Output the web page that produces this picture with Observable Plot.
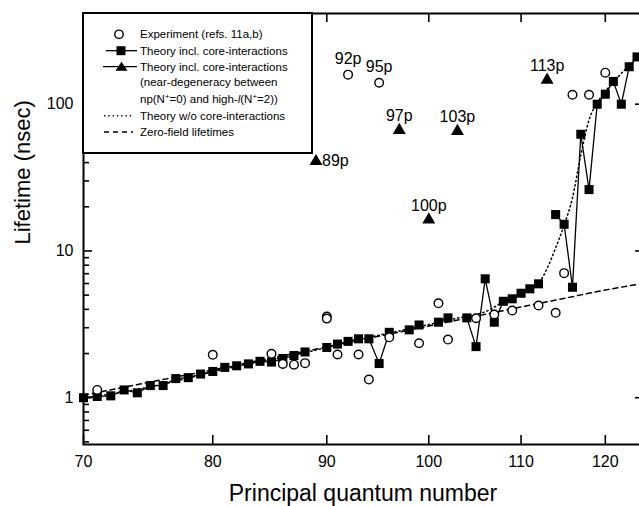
<!DOCTYPE html>
<html><head><meta charset="utf-8">
<script src="https://cdn.jsdelivr.net/npm/d3@7"></script>
<script src="https://cdn.jsdelivr.net/npm/@observablehq/plot@0.6"></script>
<style>
html,body{margin:0;padding:0;background:#fff;overflow:hidden;}
#chart{position:relative;width:639px;height:506px;overflow:hidden;}
</style></head><body><div id="chart"></div>
<script>
// ---- Data ----
// Theory incl. core-interactions (filled squares, joined by a solid line); null = replaced by a triangle
const sqN = [70,71,72,73,74,75,76,77,78,79,80,81,82,83,84,85,86,87,88,89,90,91,92,93,94,95,96,97,98,99,100,101,102,103,104,105,106,107,108,109,110,111,112,113,114,115,116,117,118,119,120,121,122,123,124];
const sqV = [1.0,1.02,1.03,1.13,1.08,1.21,1.21,1.35,1.37,1.45,1.51,1.61,1.65,1.70,1.77,1.75,1.85,1.94,2.05,null,2.20,2.32,2.42,2.52,2.52,1.71,2.79,null,2.90,3.13,null,3.27,3.50,null,3.50,2.23,6.46,3.27,4.54,4.72,5.15,5.52,5.97,null,17.7,15.2,5.66,62.4,26.2,100,117,143,100,180,210];

// Experiment (open circles)
const expN = [71,80,85,86,87,88,90,90,91,92,93,94,95,96,99,101,102,105,107,109,112,114,115,116,118,120];
const expV = [1.13,1.96,1.99,1.70,1.68,1.72,3.57,3.46,1.97,159,1.97,1.33,140,2.58,2.35,4.40,2.49,3.48,3.69,3.93,4.25,3.79,7.06,116,116,164];

// Theory incl. core-interactions, near-degeneracy (filled triangles)
const triN = [89,97,100,103,113];
const triV = [40.8,66.4,16.3,65.4,146];
const triLabel = ["89p","97p","100p","103p","113p"];

// Labelled experimental points
const expLabelN = [92,95];
const expLabelV = [159,140];
const expLabel = ["92p","95p"];

// Theory w/o core-interactions (dotted)
const dotN = [70,72,74,76,78,80,82,84,86,88,90,92,94,96,98,100,102,104,106,108,110,111,112,113,114,115,116,117,118,119,120,121,122,123,124];
const dotV = [1.0,1.06,1.14,1.24,1.36,1.50,1.63,1.76,1.88,2.03,2.20,2.40,2.58,2.76,2.95,3.15,3.38,3.60,3.85,4.50,5.15,5.52,6.0,7.6,10.5,15,23,45,78,102,122,142,162,185,210];

// Zero-field lifetimes (dashed)
const zfN = [70,80,90,100,110,120,124.7];
const zfV = [1.04,1.55,2.22,3.08,4.15,5.42,6.0];

// Axis ticks and texts
const xTicks = [70,80,90,100,110,120];
const yMajor = [1,10,100];
const yMinor = [0.5,0.6,0.7,0.8,0.9,2,3,4,5,6,7,8,9,20,30,40,50,60,70,80,90,200,300,400];
const xTitle = "Principal quantum number";
const yTitle = "Lifetime (nsec)";
const legendLabels = ["Experiment (refs. 11a,b)","Theory incl. core-interactions","Theory incl. core-interactions","(near-degeneracy between","Theory w/o core-interactions","Zero-field lifetimes"];

// ---- Build tables ----
const squares = sqN.map((n,i)=>({n, v: sqV[i]}));
const exps = expN.map((n,i)=>({n, v: expV[i]}));
const tris = triN.map((n,i)=>({n, v: triV[i], t: triLabel[i]}));
const expLabs = expLabelN.map((n,i)=>({n, v: expLabelV[i], t: expLabel[i]}));
const dots = dotN.map((n,i)=>({n, v: dotV[i]}));
const zf = zfN.map((n,i)=>({n, v: zfV[i]}));

const FONT = "'Liberation Sans', Arial, Helvetica, sans-serif";
const W = 639, H = 506, ML = 83, MR = -3, MT = 13, MB = 62;
const FW = W - ML - MR, FH = H - MT - MB;

const plot = Plot.plot({
  width: W, height: H,
  marginLeft: ML, marginRight: MR, marginTop: MT, marginBottom: MB,
  style: {fontFamily: FONT, fontSize: "16px", background: "white", color: "black", overflow: "hidden"},
  x: {type: "log", domain: [70, 124.7], axis: null},
  y: {type: "log", domain: [0.48, 415], axis: null},
  marks: [
    Plot.line(zf, {x: "n", y: "v", stroke: "black", strokeWidth: 1.5, strokeDasharray: "5,4"}),
    Plot.line(dots, {x: "n", y: "v", stroke: "black", strokeWidth: 1.5, strokeDasharray: "1.3,3", curve: "monotone-x"}),
    Plot.line(squares, {x: "n", y: "v", stroke: "black", strokeWidth: 1.3}),
    Plot.dot(squares, {x: "n", y: "v", symbol: "square", r: 5.1, fill: "black"}),
    Plot.dot(tris, {x: "n", y: "v", symbol: "triangle", r: 4.8, fill: "black"}),
    Plot.dot(exps, {x: "n", y: "v", r: 4.3, fill: "white", stroke: "black", strokeWidth: 1.4}),
    Plot.text(expLabs, {x: "n", y: "v", text: "t", lineAnchor: "bottom", dy: -11, fontSize: 16, fill: "black"}),
    Plot.text(tris.filter(d => d.n !== 89), {x: "n", y: "v", text: "t", lineAnchor: "bottom", dy: -9, fontSize: 16, fill: "black"}),
    Plot.text(tris.filter(d => d.n === 89), {x: "n", y: "v", text: "t", textAnchor: "start", lineAnchor: "middle", dx: 6, fontSize: 16, fill: "black"}),
    // inward ticks
    Plot.tickX(xTicks, {x: d => d, insetTop: FH - 9, stroke: "black", strokeWidth: 1.6}),
    Plot.tickX(xTicks, {x: d => d, insetBottom: FH - 9, stroke: "black", strokeWidth: 1.6}),
    Plot.tickY(yMajor, {y: d => d, insetRight: FW - 9, stroke: "black", strokeWidth: 1.6}),
    Plot.tickY(yMinor, {y: d => d, insetRight: FW - 6, stroke: "black", strokeWidth: 1.6}),
    Plot.tickY(yMajor, {y: d => d, insetLeft: FW - 7, stroke: "black", strokeWidth: 1.6}),
    // tick labels
    Plot.text(xTicks, {x: d => d, text: d => String(d), frameAnchor: "bottom", lineAnchor: "top", dy: 11.5, fontSize: 16, fill: "black"}),
    Plot.text(yMajor, {y: d => d, text: d => String(d), frameAnchor: "left", textAnchor: "end", lineAnchor: "middle", dx: -10, fontSize: 16, fill: "black"}),
    Plot.frame({strokeWidth: 2}),
    Plot.text([xTitle], {text: d => d, frameAnchor: "bottom", lineAnchor: "middle", dy: 49, fontSize: 23, fill: "black"}),
    Plot.text([yTitle], {text: d => d, frameAnchor: "left", lineAnchor: "middle", rotate: -90, dx: -61, dy: 15.5, fontSize: 22, fill: "black"})
  ]
});

// ---- Legend (overlay inside the plot area) ----
const svg = d3.select(plot);
const lg = svg.append("g").attr("font-family", FONT).attr("font-size", 11.5).attr("fill", "black").attr("text-anchor", "start");
lg.append("rect").attr("x", 83).attr("y", 13).attr("width", 229).attr("height", 140)
  .attr("fill", "white").attr("stroke", "black").attr("stroke-width", 2);
const rowY = [34.3, 50.7, 66.7, 82.3, 99, 115.7, 132];
const tx = 140;
const base = y => y + 4.1;
// row 0: circle
lg.append("circle").attr("cx", 119).attr("cy", rowY[0]).attr("r", 4.2).attr("fill", "white").attr("stroke", "black").attr("stroke-width", 1.4);
lg.append("text").attr("x", tx).attr("y", base(rowY[0])).text(legendLabels[0]);
// row 1: line + square
lg.append("line").attr("x1", 106).attr("x2", 137).attr("y1", rowY[1]).attr("y2", rowY[1]).attr("stroke", "black").attr("stroke-width", 1.3);
lg.append("rect").attr("x", 116.5).attr("y", rowY[1] - 4.5).attr("width", 9).attr("height", 9).attr("fill", "black");
lg.append("text").attr("x", tx).attr("y", base(rowY[1])).text(legendLabels[1]);
// row 2: line + triangle
lg.append("line").attr("x1", 103).attr("x2", 137).attr("y1", rowY[2]).attr("y2", rowY[2]).attr("stroke", "black").attr("stroke-width", 1.3);
lg.append("path").attr("d", `M121.5,${rowY[2]-5}L127.5,${rowY[2]+4}L115.5,${rowY[2]+4}Z`).attr("fill", "black");
lg.append("text").attr("x", tx).attr("y", base(rowY[2])).text(legendLabels[2]);
lg.append("text").attr("x", tx).attr("y", base(rowY[3])).text(legendLabels[3]);
const t4 = lg.append("text").attr("x", tx).attr("y", base(rowY[4]));
t4.append("tspan").text("np(N");
t4.append("tspan").attr("dy", -4).attr("font-size", 8).text("+");
t4.append("tspan").attr("dy", 4).text("=0) and high-");
t4.append("tspan").attr("font-style", "italic").text("l");
t4.append("tspan").text("(N");
t4.append("tspan").attr("dy", -4).attr("font-size", 8).text("+");
t4.append("tspan").attr("dy", 4).text("=2))");
// row 5: dotted
lg.append("line").attr("x1", 104).attr("x2", 133).attr("y1", rowY[5]).attr("y2", rowY[5]).attr("stroke", "black").attr("stroke-width", 1.5).attr("stroke-dasharray", "1.3,3");
lg.append("text").attr("x", tx).attr("y", base(rowY[5])).text(legendLabels[4]);
// row 6: dashed
lg.append("line").attr("x1", 104).attr("x2", 133).attr("y1", rowY[6]).attr("y2", rowY[6]).attr("stroke", "black").attr("stroke-width", 1.5).attr("stroke-dasharray", "5,4");
lg.append("text").attr("x", tx).attr("y", base(rowY[6])).text(legendLabels[5]);

document.getElementById("chart").appendChild(plot);
</script>
</body></html>
